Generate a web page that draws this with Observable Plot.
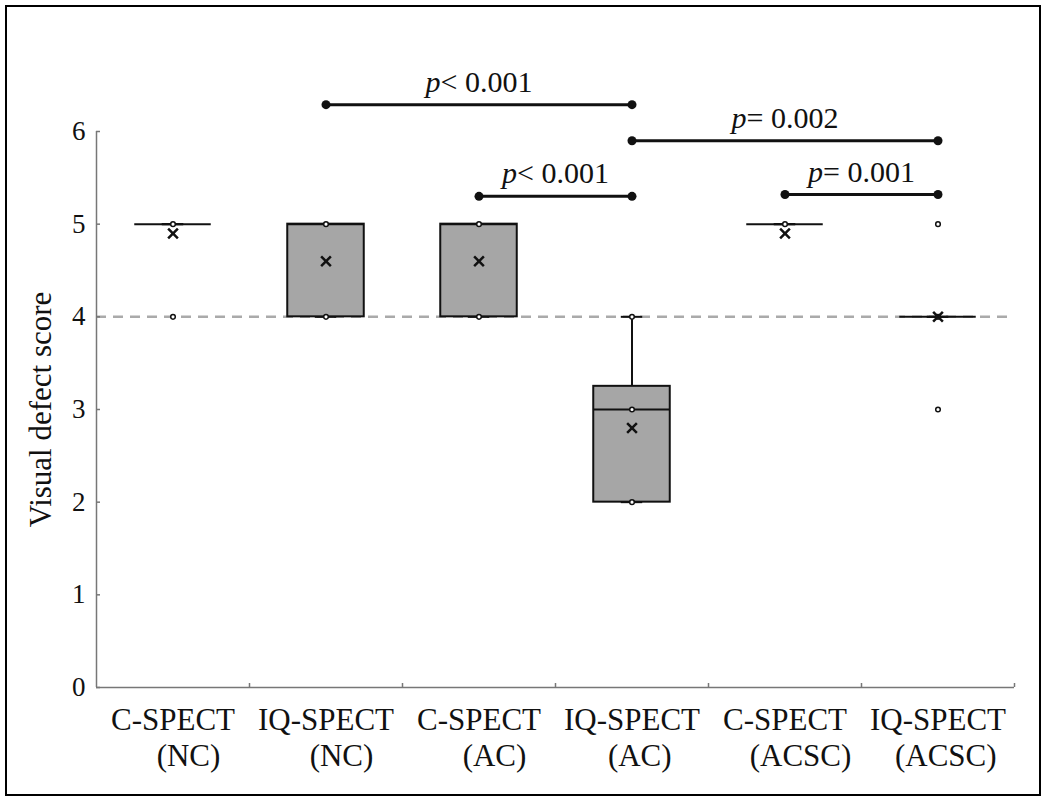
<!DOCTYPE html>
<html>
<head>
<meta charset="utf-8">
<script src="https://cdn.jsdelivr.net/npm/d3@7"></script>
<script src="https://cdn.jsdelivr.net/npm/@observablehq/plot@0.6"></script>
<style>
  body { margin: 0; background: #fff; }
  #wrap { position: relative; width: 1041px; height: 796px; overflow: hidden; }
  #border { position: absolute; left: 5px; top: 5px; right: 0; bottom: 0; border: 2px solid #000; pointer-events: none; }
  svg { display: block; }
</style>
</head>
<body>
<div id="wrap"><div id="border"></div></div>
<script>
// ---- data ----
const categories = ["C-SPECT (NC)", "IQ-SPECT (NC)", "C-SPECT (AC)", "IQ-SPECT (AC)", "C-SPECT (ACSC)", "IQ-SPECT (ACSC)"];
const tickLabels = [
  "C-SPECT\n\u00A0\u00A0\u00A0\u00A0(NC)",
  "IQ-SPECT\n\u00A0\u00A0\u00A0\u00A0(NC)",
  "C-SPECT\n\u00A0\u00A0\u00A0\u00A0(AC)",
  "IQ-SPECT\n\u00A0\u00A0(AC)",
  "C-SPECT\n\u00A0\u00A0\u00A0\u00A0(ACSC)",
  "IQ-SPECT\n\u00A0\u00A0(ACSC)"
];
const q1 = [5, 4, 4, 2, 5, 4];
const median = [5, 5, 5, 3, 5, 4];
const q3 = [5, 5, 5, 3.25, 5, 4];
const whiskerLow = [5, 4, 4, 2, 5, 4];
const whiskerHigh = [5, 5, 5, 4, 5, 4];
const means = [4.9, 4.6, 4.6, 2.8, 4.9, 4.0];

const pointGroup = [0, 0, 1, 1, 2, 2, 3, 3, 3, 4, 5, 5, 5];
const pointValue = [5, 4, 5, 4, 5, 4, 4, 3, 2, 5, 5, 4, 3];

const bracketFrom = [1, 2, 3, 4];
const bracketTo = [3, 3, 5, 5];
const bracketY = [6.29, 5.30, 5.90, 5.32];
const bracketLabel = ["p< 0.001", "p< 0.001", "p= 0.002", "p= 0.001"];

const referenceLine = [4];
const yTicks = [0, 1, 2, 3, 4, 5, 6];
const yTickLabels = ["0", "1", "2", "3", "4", "5", "6"];
const yLabel = "Visual defect score";

// ---- derived tables ----
const idx = categories.map((_, i) => i);
const boxHalf = 0.25, capHalf = 0.07;
const points = pointGroup.map((g, k) => ({g, v: pointValue[k]}));
const brackets = bracketFrom.map((f, k) => ({f, t: bracketTo[k], y: bracketY[k], label: bracketLabel[k]}));
const bracketEnds = brackets.flatMap(b => [{x: b.f + 0.5, y: b.y}, {x: b.t + 0.5, y: b.y}]);

const font = "'Liberation Serif', 'Times New Roman', Times, serif";
const axisGray = "#777";

const plot = Plot.plot({
  width: 1041,
  height: 796,
  marginLeft: 96,
  marginRight: 27,
  marginTop: 131,
  marginBottom: 109,
  style: {fontFamily: font, background: "transparent", color: "#111"},
  x: {domain: [0, categories.length]},
  y: {domain: [0, 6]},
  marks: [
    // reference dashed line
    Plot.ruleY(referenceLine, {stroke: "#aaa", strokeWidth: 2.5, strokeDasharray: "10,7"}),
    // axes lines
    Plot.ruleX([0], {stroke: axisGray, strokeWidth: 1.5}),
    Plot.ruleY([0], {stroke: axisGray, strokeWidth: 1.5}),
    Plot.axisY({ticks: yTicks, tickSize: -4, stroke: axisGray, strokeWidth: 1.5, tickFormat: () => "", label: null}),
    Plot.axisY({ticks: yTicks, tickSize: 0, tickPadding: 11, fontSize: 27, fill: "#111", fontVariant: "normal",
      tickFormat: d => yTickLabels[yTicks.indexOf(d)], label: null}),
    Plot.axisX({ticks: idx.map(i => i + 1), tickSize: -4, stroke: axisGray, strokeWidth: 1.5, tickFormat: () => "", label: null}),
    Plot.axisX({ticks: idx.map(i => i + 0.5), tickSize: 0, tickPadding: 17, fontSize: 31, lineHeight: 1.16, fill: "#111",
      tickFormat: d => tickLabels[Math.round(d - 0.5)], label: null}),
    // y label
    Plot.text([yLabel], {frameAnchor: "left", textAnchor: "middle", rotate: -90, dx: -55, fontSize: 31, fill: "#111", text: d => d}),
    // whiskers
    Plot.ruleX(idx, {x: i => i + 0.5, y1: i => q3[i], y2: i => whiskerHigh[i], stroke: "#111", strokeWidth: 2}),
    Plot.ruleX(idx, {x: i => i + 0.5, y1: i => q1[i], y2: i => whiskerLow[i], stroke: "#111", strokeWidth: 2}),
    Plot.ruleY(idx, {y: i => whiskerHigh[i], x1: i => i + 0.5 - capHalf, x2: i => i + 0.5 + capHalf, stroke: "#111", strokeWidth: 2}),
    Plot.ruleY(idx, {y: i => whiskerLow[i], x1: i => i + 0.5 - capHalf, x2: i => i + 0.5 + capHalf, stroke: "#111", strokeWidth: 2}),
    // boxes
    Plot.rect(idx.filter(i => q3[i] > q1[i]), {x1: i => i + 0.5 - boxHalf, x2: i => i + 0.5 + boxHalf, y1: i => q1[i], y2: i => q3[i],
      fill: "#a6a6a6", stroke: "#111", strokeWidth: 2}),
    // medians
    Plot.ruleY(idx, {y: i => median[i], x1: i => i + 0.5 - boxHalf, x2: i => i + 0.5 + boxHalf, stroke: "#111", strokeWidth: 2}),
    // data points
    Plot.dot(points, {x: d => d.g + 0.5, y: "v", r: 2.3, fill: "white", stroke: "#111", strokeWidth: 1.5}),
    // means
    Plot.dot(idx, {x: i => i + 0.5, y: i => means[i], symbol: "times", r: 4.5, stroke: "#111", strokeWidth: 2.5}),
    // significance brackets
    Plot.ruleY(brackets, {y: "y", x1: d => d.f + 0.5, x2: d => d.t + 0.5, stroke: "#111", strokeWidth: 3}),
    Plot.dot(bracketEnds, {x: "x", y: "y", r: 4.5, fill: "#111", stroke: null}),
    Plot.text(brackets, {x: d => (d.f + d.t) / 2 + 0.5, y: "y", text: "label", lineAnchor: "bottom", dy: -13, fontSize: 30, fill: "#111"})
  ]
});

// italicise the leading "p" of the significance labels
d3.select(plot).selectAll("text").each(function () {
  const t = this.textContent;
  if (/^p[<=]/.test(t) && this.childElementCount === 0) {
    const el = d3.select(this);
    el.text(null);
    el.append("tspan").attr("font-style", "italic").text("p");
    el.append("tspan").text(t.slice(1));
  }
});

document.getElementById("wrap").prepend(plot);
</script>
</body>
</html>
